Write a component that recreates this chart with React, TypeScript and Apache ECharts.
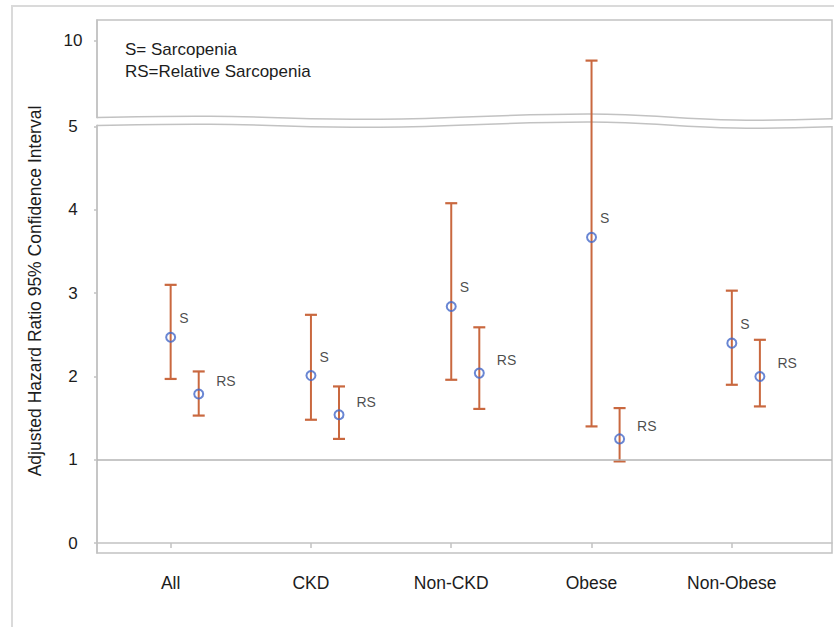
import React, { useEffect, useRef } from "react";
import * as echarts from "echarts";

// ---- data ----
const categories = ["All", "CKD", "Non-CKD", "Obese", "Non-Obese"];
const sarcopeniaHR = [2.47, 2.01, 2.84, 3.67, 2.4];
const sarcopeniaLow = [1.97, 1.48, 1.96, 1.4, 1.9];
const sarcopeniaHigh = [3.1, 2.74, 4.08, 8.7, 3.03];
const relativeHR = [1.79, 1.54, 2.04, 1.25, 2.0];
const relativeLow = [1.53, 1.25, 1.61, 0.98, 1.64];
const relativeHigh = [2.06, 1.88, 2.59, 1.62, 2.44];
const yTickLabels = [0, 1, 2, 3, 4, 5, 10];
const legendLines = ["S= Sarcopenia", "RS=Relative Sarcopenia"];
const yTitle = "Adjusted Hazard Ratio 95% Confidence Interval";

// ---- broken-axis scale (values above 5 are compressed) ----
const BREAK_AT = 5;
const BREAK_GAP = 0.108;
const UPPER_RATIO = 0.185;
const tf = (v: number) => (v <= BREAK_AT ? v : BREAK_AT + BREAK_GAP + (v - BREAK_AT) * UPPER_RATIO);

const RS_SHIFT = 0.2;
const ORANGE = "#c9683f";
const BLUE = "#4468c8";
const GRAY = "#c2c2c2";
const FONT = "'Liberation Sans', Arial, sans-serif";
const TEXT = "#1c1c1c";

// layout
const GRID_LEFT = 97;
const GRID_TOP = 20;
const GRID_RIGHT_X = 832;
const GRID_BOTTOM_Y = 553;

export default function App() {
  const ref = useRef<HTMLDivElement>(null);
  useEffect(() => {
    if (!ref.current) return;
    const chart = echarts.init(ref.current, null, { renderer: "svg" });

    const sBars = categories.map((_, i) => [i + 1, tf(sarcopeniaLow[i]), tf(sarcopeniaHigh[i])]);
    const rBars = categories.map((_, i) => [i + 1 + RS_SHIFT, tf(relativeLow[i]), tf(relativeHigh[i])]);
    const sPts = categories.map((_, i) => [i + 1, tf(sarcopeniaHR[i])]);
    const rPts = categories.map((_, i) => [i + 1 + RS_SHIFT, tf(relativeHR[i])]);

    const renderBar = (params: any, api: any) => {
      const x = api.value(0);
      const lo = api.coord([x, api.value(1)]);
      const hi = api.coord([x, api.value(2)]);
      const hw = 6;
      const st = { stroke: ORANGE, lineWidth: 2 };
      return {
        type: "group",
        children: [
          { type: "line", shape: { x1: lo[0], y1: lo[1], x2: hi[0], y2: hi[1] }, style: st },
          { type: "line", shape: { x1: lo[0] - hw, y1: lo[1], x2: lo[0] + hw, y2: lo[1] }, style: { stroke: ORANGE, lineWidth: 2.2 } },
          { type: "line", shape: { x1: hi[0] - hw, y1: hi[1], x2: hi[0] + hw, y2: hi[1] }, style: { stroke: ORANGE, lineWidth: 2.2 } },
        ],
      };
    };

    // break wave decoration
    const topWave: number[][] = [
      [GRID_LEFT, 117.5], [210, 116.3], [380, 119.3], [590, 114], [735, 120], [GRID_RIGHT_X, 118.8],
    ];
    const waveOffset = 8;
    const botWave = topWave.map((p) => [p[0], p[1] + waveOffset]);
    const band: number[][] = [
      [GRID_LEFT - 4, topWave[0][1] + 0.5],
      ...topWave.map((p) => [p[0], p[1] + 0.8]),
      [GRID_RIGHT_X + 3, topWave[topWave.length - 1][1] + 0.8],
      [GRID_RIGHT_X + 3, botWave[botWave.length - 1][1] - 0.8],
      ...botWave.slice().reverse().map((p) => [p[0], p[1] - 0.8]),
      [GRID_LEFT - 4, botWave[0][1] - 0.5],
    ];

    const yCustom = yTickLabels.map(tf);
    const yFormatter = (v: number) => {
      const idx = yCustom.findIndex((c) => Math.abs(c - v) < 1e-6);
      return idx >= 0 ? String(yTickLabels[idx]) : "";
    };

    const pointLabel = (text: string, distance: number) => ({
      show: true,
      formatter: text,
      position: "right",
      distance,
      fontSize: 14,
      fontFamily: FONT,
      color: TEXT,
    });

    const option: any = {
      animation: false,
      backgroundColor: "#ffffff",
      grid: {
        left: GRID_LEFT,
        top: GRID_TOP,
        right: 834 - GRID_RIGHT_X,
        bottom: 627 - GRID_BOTTOM_Y,
        show: true,
        borderColor: GRAY,
        borderWidth: 1.5,
        backgroundColor: "transparent",
      },
      xAxis: {
        type: "value",
        min: 0.475,
        max: 5.714,
        splitLine: { show: false },
        axisLine: { show: true, lineStyle: { color: GRAY, width: 1.5 } },
        axisTick: { show: true, customValues: [1, 2, 3, 4, 5], length: 5, lineStyle: { color: GRAY, width: 1.5 } },
        axisLabel: {
          customValues: [1, 2, 3, 4, 5],
          formatter: (v: number) => categories[Math.round(v) - 1] ?? "",
          fontSize: 17.5,
          fontFamily: FONT,
          color: TEXT,
          margin: 21,
        },
      },
      yAxis: {
        type: "value",
        min: -0.12,
        max: 6.28,
        splitLine: { show: false },
        axisLine: { show: true, lineStyle: { color: GRAY, width: 1.5 } },
        axisTick: { show: true, customValues: yCustom, length: 3, lineStyle: { color: GRAY, width: 1.5 } },
        axisLabel: {
          customValues: yCustom,
          formatter: yFormatter,
          fontSize: 17,
          fontFamily: FONT,
          color: TEXT,
          align: "center",
          margin: 24,
          padding: [0, 0, 10, 0],
        },
      },
      graphic: [
        {
          type: "rect",
          z: 0,
          shape: { x: 12, y: 6, width: 900, height: 700 },
          style: { fill: "none", stroke: "#dadada", lineWidth: 2 },
          silent: true,
        },
        {
          type: "polygon",
          z: 1,
          shape: { points: band, smooth: 0 },
          style: { fill: "#ffffff", stroke: "none" },
          silent: true,
        },
        {
          type: "polyline",
          z: 1,
          shape: { points: topWave, smooth: 0.4 },
          style: { stroke: GRAY, lineWidth: 1.5, fill: "none" },
          silent: true,
        },
        {
          type: "polyline",
          z: 1,
          shape: { points: botWave, smooth: 0.4 },
          style: { stroke: GRAY, lineWidth: 1.5, fill: "none" },
          silent: true,
        },
        {
          type: "text",
          z: 3,
          x: 125,
          y: 49,
          style: { text: legendLines[0], fontSize: 17, fontFamily: FONT, fill: TEXT, verticalAlign: "middle" },
        },
        {
          type: "text",
          z: 3,
          x: 125,
          y: 71,
          style: { text: legendLines[1], fontSize: 17, fontFamily: FONT, fill: TEXT, verticalAlign: "middle" },
        },
        {
          type: "text",
          z: 3,
          x: 35,
          y: 291,
          rotation: Math.PI / 2,
          style: { text: yTitle, fontSize: 17.5, fontFamily: FONT, fill: TEXT, align: "center", verticalAlign: "middle" },
        },
      ],
      series: [
        {
          type: "custom",
          name: "S CI",
          z: 4,
          renderItem: renderBar,
          encode: { x: 0, y: [1, 2] },
          data: sBars,
          clip: false,
        },
        {
          type: "custom",
          name: "RS CI",
          z: 4,
          renderItem: renderBar,
          encode: { x: 0, y: [1, 2] },
          data: rBars,
          clip: false,
        },
        {
          type: "scatter",
          name: "S",
          z: 5,
          symbol: "circle",
          symbolSize: 9,
          itemStyle: { color: "rgba(255,255,255,0)", borderColor: BLUE, borderWidth: 2 },
          label: pointLabel("S", 3),
          labelLayout: { dy: -19, hideOverlap: false },
          data: sPts,
          markLine: {
            silent: true,
            symbol: "none",
            label: { show: false },
            lineStyle: { color: "#b5b5b5", width: 1.5, type: "solid" },
            data: [{ yAxis: 1 }],
          },
        },
        {
          type: "scatter",
          name: "RS",
          z: 5,
          symbol: "circle",
          symbolSize: 9,
          itemStyle: { color: "rgba(255,255,255,0)", borderColor: BLUE, borderWidth: 2 },
          label: pointLabel("RS", 12),
          labelLayout: { dy: -13, hideOverlap: false },
          data: rPts,
        },
      ],
    };
    chart.setOption(option);
    return () => chart.dispose();
  }, []);

  return (
    <div
      ref={ref}
      style={{ position: "fixed", left: 0, top: 0, width: 834, height: 627, background: "#fff" }}
    />
  );
}
